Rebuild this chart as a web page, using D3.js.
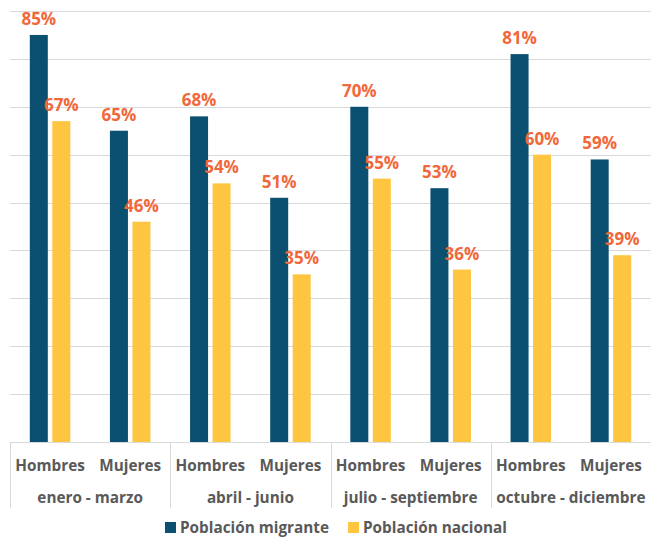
<!DOCTYPE html>
<html lang="es">
<head>
<meta charset="UTF-8">
<title>Chart</title>
<script src="https://d3js.org/d3.v7.min.js"></script>
<style>
  body { margin: 0; padding: 0; background: #fff; }
  svg { font-family: "Open Sans", sans-serif; font-weight: bold; }
</style>
</head>
<body>
<div id="chart"></div>
<script>
var periods = ["enero - marzo", "abril - junio", "julio - septiembre", "octubre - diciembre"];
var sexes = ["Hombres", "Mujeres"];
var seriesNames = ["Población migrante", "Población nacional"];
var migrante = [85, 65, 68, 51, 70, 53, 81, 59];
var nacional = [67, 46, 54, 35, 55, 36, 60, 39];
var yTicks = [0, 10, 20, 30, 40, 50, 60, 70, 80, 90];

var colors = ["#0b5070", "#fdc540"];
var width = 651, height = 537;
var plotLeft = 10, plotRight = 651, plotTop = 11, plotBottom = 442;

var svg = d3.select("#chart").append("svg")
    .attr("width", width)
    .attr("height", height);

var y = d3.scaleLinear().domain([0, 90]).range([plotBottom, plotTop]);

// one band for each period/sex pair
var cats = [];
periods.forEach(function (p, i) {
    sexes.forEach(function (s, j) { cats.push({ period: p, sex: s, idx: i * 2 + j }); });
});

var x0 = d3.scaleBand().domain(periods).range([plotLeft, plotRight]);
var x1 = d3.scaleBand().domain(d3.range(cats.length)).range([plotLeft, plotRight]);
var xs = d3.scaleBand().domain([0, 1]).range([0, x1.bandwidth()]).paddingOuter(0.88).paddingInner(0.2);

// gridlines
svg.selectAll(".grid")
    .data(yTicks)
    .enter().append("line")
    .attr("x1", plotLeft).attr("x2", plotRight)
    .attr("y1", function (d) { return Math.round(y(d)) + 0.5; })
    .attr("y2", function (d) { return Math.round(y(d)) + 0.5; })
    .attr("stroke", "#d9d9d9")
    .attr("stroke-width", 1);

// bars
var values = [migrante, nacional];
var bars = [];
cats.forEach(function (c) {
    values.forEach(function (v, k) { bars.push({ cat: c.idx, s: k, v: v[c.idx] }); });
});

svg.selectAll(".bar")
    .data(bars)
    .enter().append("rect")
    .attr("x", function (d) { return x1(d.cat) + xs(d.s); })
    .attr("y", function (d) { return y(d.v); })
    .attr("width", xs.bandwidth())
    .attr("height", function (d) { return plotBottom - y(d.v); })
    .attr("fill", function (d) { return colors[d.s]; });

svg.selectAll(".lbl")
    .data(bars)
    .enter().append("text")
    .attr("x", function (d) { return x1(d.cat) + xs(d.s) + xs.bandwidth() / 2; })
    .attr("y", function (d) { return y(d.v) - 10; })
    .attr("text-anchor", "middle")
    .attr("fill", "#f1683a")
    .style("font-size", "17px")
    .text(function (d) { return d.v + "%"; });

// axis separators
svg.selectAll(".sep")
    .data(periods.concat(["end"]))
    .enter().append("line")
    .attr("x1", function (d, i) { return Math.round(plotLeft + i * x0.bandwidth()) + 0.5; })
    .attr("x2", function (d, i) { return Math.round(plotLeft + i * x0.bandwidth()) + 0.5; })
    .attr("y1", plotBottom)
    .attr("y2", 508)
    .attr("stroke", "#d9d9d9");

svg.selectAll(".sex")
    .data(cats)
    .enter().append("text")
    .attr("x", function (d) { return x1(d.idx) + x1.bandwidth() / 2; })
    .attr("y", 471)
    .attr("text-anchor", "middle")
    .attr("fill", "#595959")
    .style("font-size", "15.3px")
    .text(function (d) { return d.sex; });

svg.selectAll(".period")
    .data(periods)
    .enter().append("text")
    .attr("x", function (d) { return x0(d) + x0.bandwidth() / 2; })
    .attr("y", 503)
    .attr("text-anchor", "middle")
    .attr("fill", "#595959")
    .style("font-size", "15.3px")
    .text(function (d) { return d; });

// legend
var legendX = [165, 348];
var lg = svg.selectAll(".legend")
    .data(seriesNames)
    .enter().append("g")
    .attr("transform", function (d, i) { return "translate(" + legendX[i] + ",522)"; });
lg.append("rect")
    .attr("width", 11).attr("height", 11)
    .attr("fill", function (d, i) { return colors[i]; });
lg.append("text")
    .attr("x", 15).attr("y", 11)
    .attr("fill", "#595959")
    .style("font-size", "15.3px")
    .text(function (d) { return d; });
</script>
</body>
</html>
